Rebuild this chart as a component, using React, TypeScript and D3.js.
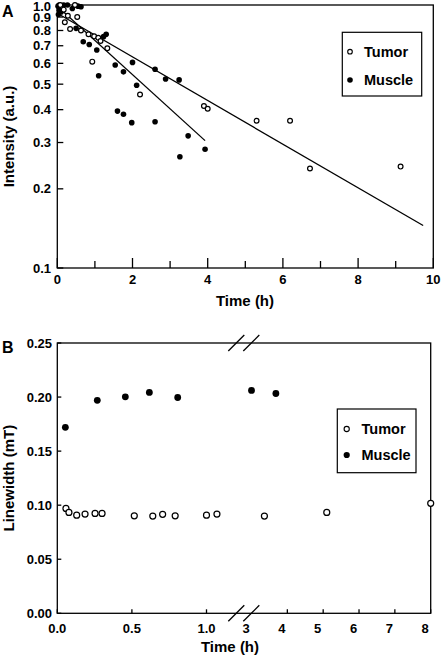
import React from "react";
import * as d3 from "d3";

// ---------- Panel A data ----------
const tumorA_t = [0.08, 0.47, 0.17, 0.28, 0.53, 0.2, 0.34, 0.63, 0.83, 0.98, 1.09, 1.15, 1.33, 0.93, 2.2, 3.9, 4.0, 5.3, 6.19, 6.72, 9.13];
const tumorA_v = [1.0, 1.0, 0.96, 0.91, 0.9, 0.86, 0.81, 0.8, 0.774, 0.76, 0.75, 0.73, 0.685, 0.609, 0.457, 0.413, 0.403, 0.363, 0.363, 0.239, 0.243];
const muscleA_t = [0.02, 0.05, 0.17, 0.27, 0.4, 0.55, 0.63, 0.05, 0.03, 0.1, 0.5, 0.69, 0.85, 1.05, 1.23, 1.3, 1.1, 1.54, 1.76, 2.0, 2.11, 1.6, 1.76, 1.98, 2.6, 2.6, 2.88, 3.24, 3.48, 3.93, 3.26];
const muscleA_v = [0.99, 1.0, 1.0, 1.0, 0.97, 0.99, 0.985, 0.955, 0.92, 0.94, 0.815, 0.725, 0.708, 0.674, 0.758, 0.774, 0.538, 0.591, 0.557, 0.605, 0.495, 0.395, 0.384, 0.357, 0.57, 0.36, 0.523, 0.519, 0.318, 0.283, 0.265];
const tumorFit_t = [0, 9.73];
const tumorFit_v = [0.93, 0.145];
const muscleFit_t = [0, 3.93];
const muscleFit_v = [0.99, 0.305];
const yTicksA = [1.0, 0.9, 0.8, 0.7, 0.6, 0.5, 0.4, 0.3, 0.2, 0.1];
const yTickLabelsA = ["1.0", "0.9", "0.8", "0.7", "0.6", "0.5", "0.4", "0.3", "0.2", "0.1"];
const xMajorA = [0, 2, 4, 6, 8, 10];
const xMinorA = [1, 3, 5, 7, 9];

// ---------- Panel B data ----------
const tumorB_t = [0.058, 0.078, 0.13, 0.186, 0.253, 0.3, 0.516, 0.64, 0.706, 0.79, 1.0, 1.07, 3.36, 5.1, 8.0];
const tumorB_v = [0.097, 0.0933, 0.0908, 0.0918, 0.0924, 0.0924, 0.0902, 0.0899, 0.0915, 0.0902, 0.0908, 0.0918, 0.0899, 0.0933, 0.1017];
const muscleB_t = [0.054, 0.268, 0.456, 0.617, 0.807, 3.0, 3.68];
const muscleB_v = [0.172, 0.197, 0.2002, 0.2043, 0.1996, 0.2061, 0.2033];
const yTicksB = [0, 0.05, 0.1, 0.15, 0.2, 0.25];
const yTickLabelsB = ["0.00", "0.05", "0.10", "0.15", "0.20", "0.25"];
const xTicksBLeft = [0, 0.5, 1.0];
const xTickLabelsBLeft = ["0.0", "0.5", "1.0"];
const xTicksBRight = [3, 4, 5, 6, 7, 8];
const xTickLabelsBRight = ["3", "4", "5", "6", "7", "8"];

const FONT = "'Liberation Sans', Arial, Helvetica, sans-serif";

export default function App() {
  // Panel A scales
  const xA = d3.scaleLinear().domain([0, 10]).range([57.3, 433.3]);
  const yA = d3.scaleLog().domain([0.1, 1]).range([268, 5]);
  // Panel B scales (broken axis)
  const xBL = d3.scaleLinear().domain([0, 1.25]).range([57.3, 243.8]);
  const xBR = d3.scaleLinear().domain([2.785, 8]).range([243.8, 430.7]);
  const xB = (t: number) => (t <= 2 ? xBL(t) : xBR(t));
  const yB = d3.scaleLinear().domain([0, 0.25]).range([613.3, 343]);

  const line = d3.line<[number, number]>().x((d) => xA(d[0])).y((d) => yA(d[1]));
  const tumorFit: [number, number][] = tumorFit_t.map((t, i) => [t, tumorFit_v[i]]);
  const muscleFit: [number, number][] = muscleFit_t.map((t, i) => [t, muscleFit_v[i]]);

  const A = { l: xA.range()[0], r: xA.range()[1], t: yA.range()[1], b: yA.range()[0] };
  const B = { l: 57.3, r: 430.7, t: yB.range()[1], b: yB.range()[0] };
  const breakX = 243.8;

  const sw = 1.3;

  return (
    <svg
      width={442}
      height={659}
      style={{ position: "absolute", left: 0, top: 0, display: "block", background: "#fff" }}
      fontFamily={FONT}
      fontWeight="bold"
    >
      <rect x={0} y={0} width={442} height={659} fill="#fff" />
      {/* ================= Panel A ================= */}
      <text x={2} y={17} fontSize={16}>A</text>
      {/* fit lines */}
      <path d={line(tumorFit) || ""} fill="none" stroke="#000" strokeWidth={1.3} />
      <path d={line(muscleFit) || ""} fill="none" stroke="#000" strokeWidth={1.3} />
      {/* frame */}
      <rect x={A.l} y={A.t} width={A.r - A.l} height={A.b - A.t} fill="none" stroke="#000" strokeWidth={sw} />
      {/* y ticks */}
      {yTicksA.map((v, i) => (
        <g key={"ya" + i}>
          <line x1={A.l} x2={A.l + 6} y1={yA(v)} y2={yA(v)} stroke="#000" strokeWidth={sw} />
          <text x={51} y={Math.max(yA(v) + 4.6, 10.8)} fontSize={13} textAnchor="end">{yTickLabelsA[i]}</text>
        </g>
      ))}
      {/* x ticks */}
      {xMajorA.map((t, i) => (
        <g key={"xa" + i}>
          <line x1={xA(t)} x2={xA(t)} y1={A.b} y2={A.b - 10} stroke="#000" strokeWidth={sw} />
          <text x={xA(t)} y={284} fontSize={13} textAnchor="middle">{String(t)}</text>
        </g>
      ))}
      {xMinorA.map((t, i) => (
        <line key={"xam" + i} x1={xA(t)} x2={xA(t)} y1={A.b} y2={A.b - 7} stroke="#000" strokeWidth={sw} />
      ))}
      <text x={245} y={306} fontSize={15} textAnchor="middle">Time (h)</text>
      <text transform={`translate(14,${(A.t + A.b) / 2}) rotate(-90)`} fontSize={15} textAnchor="middle">Intensity (a.u.)</text>
      {/* points */}
      {muscleA_t.map((t, i) => (
        <circle key={"ma" + i} cx={xA(t)} cy={yA(muscleA_v[i])} r={2.8} fill="#000" />
      ))}
      {tumorA_t.map((t, i) => (
        <circle key={"ta" + i} cx={xA(t)} cy={yA(tumorA_v[i])} r={2.4} fill="#fff" stroke="#000" strokeWidth={1.2} />
      ))}
      {/* legend A */}
      <rect x={342.3} y={32.3} width={79.4} height={63.7} fill="#fff" stroke="#000" strokeWidth={1.2} />
      <circle cx={350} cy={51.7} r={2.3} fill="#fff" stroke="#000" strokeWidth={1.1} />
      <text x={364} y={56.8} fontSize={14.5}>Tumor</text>
      <circle cx={350} cy={80} r={2.8} fill="#000" />
      <text x={364} y={85.1} fontSize={14.5}>Muscle</text>

      {/* ================= Panel B ================= */}
      <text x={2} y={353} fontSize={16}>B</text>
      <rect x={B.l} y={B.t} width={B.r - B.l} height={B.b - B.t} fill="none" stroke="#000" strokeWidth={sw} />
      {/* break marks */}
      {[B.t, B.b].map((yy, j) => (
        <g key={"brk" + j}>
          <line x1={breakX - 15.5} y1={yy + 8} x2={breakX + 0.5} y2={yy - 8} stroke="#000" strokeWidth={sw} />
          <line x1={breakX - 0.5} y1={yy + 8} x2={breakX + 15.5} y2={yy - 8} stroke="#000" strokeWidth={sw} />
        </g>
      ))}
      {/* y ticks */}
      {yTicksB.map((v, i) => (
        <g key={"yb" + i}>
          <line x1={B.l} x2={B.l + 4} y1={yB(v)} y2={yB(v)} stroke="#000" strokeWidth={sw} />
          <text x={52} y={yB(v) + 4.6} fontSize={13} textAnchor="end">{yTickLabelsB[i]}</text>
        </g>
      ))}
      {/* x ticks left */}
      {xTicksBLeft.map((t, i) => (
        <g key={"xbl" + i}>
          <line x1={xBL(t)} x2={xBL(t)} y1={B.b} y2={B.b - 4} stroke="#000" strokeWidth={sw} />
          <text x={xBL(t)} y={633} fontSize={13} textAnchor="middle">{xTickLabelsBLeft[i]}</text>
        </g>
      ))}
      {/* x ticks right */}
      {xTicksBRight.map((t, i) => (
        <g key={"xbr" + i}>
          {t > 3 && <line x1={xBR(t)} x2={xBR(t)} y1={B.b} y2={B.b - 4} stroke="#000" strokeWidth={sw} />}
          <text x={xBR(t) - 5.5} y={633} fontSize={13} textAnchor="middle">{xTickLabelsBRight[i]}</text>
        </g>
      ))}
      <text x={230} y={652} fontSize={15} textAnchor="middle">Time (h)</text>
      <text transform={`translate(14,${(B.t + B.b) / 2}) rotate(-90)`} fontSize={15} textAnchor="middle">Linewidth (mT)</text>
      {/* points */}
      {muscleB_t.map((t, i) => (
        <circle key={"mb" + i} cx={xB(t)} cy={yB(muscleB_v[i])} r={3.4} fill="#000" />
      ))}
      {tumorB_t.map((t, i) => (
        <circle key={"tb" + i} cx={xB(t)} cy={yB(tumorB_v[i])} r={3.0} fill="#fff" stroke="#000" strokeWidth={1.2} />
      ))}
      {/* legend B */}
      <rect x={337.3} y={409} width={78.7} height={63.7} fill="#fff" stroke="#000" strokeWidth={1.2} />
      <circle cx={346.7} cy={429} r={2.6} fill="#fff" stroke="#000" strokeWidth={1.1} />
      <text x={361.5} y={434.2} fontSize={14.5}>Tumor</text>
      <circle cx={346.7} cy={455} r={3.1} fill="#000" />
      <text x={361.5} y={460.2} fontSize={14.5}>Muscle</text>
    </svg>
  );
}
